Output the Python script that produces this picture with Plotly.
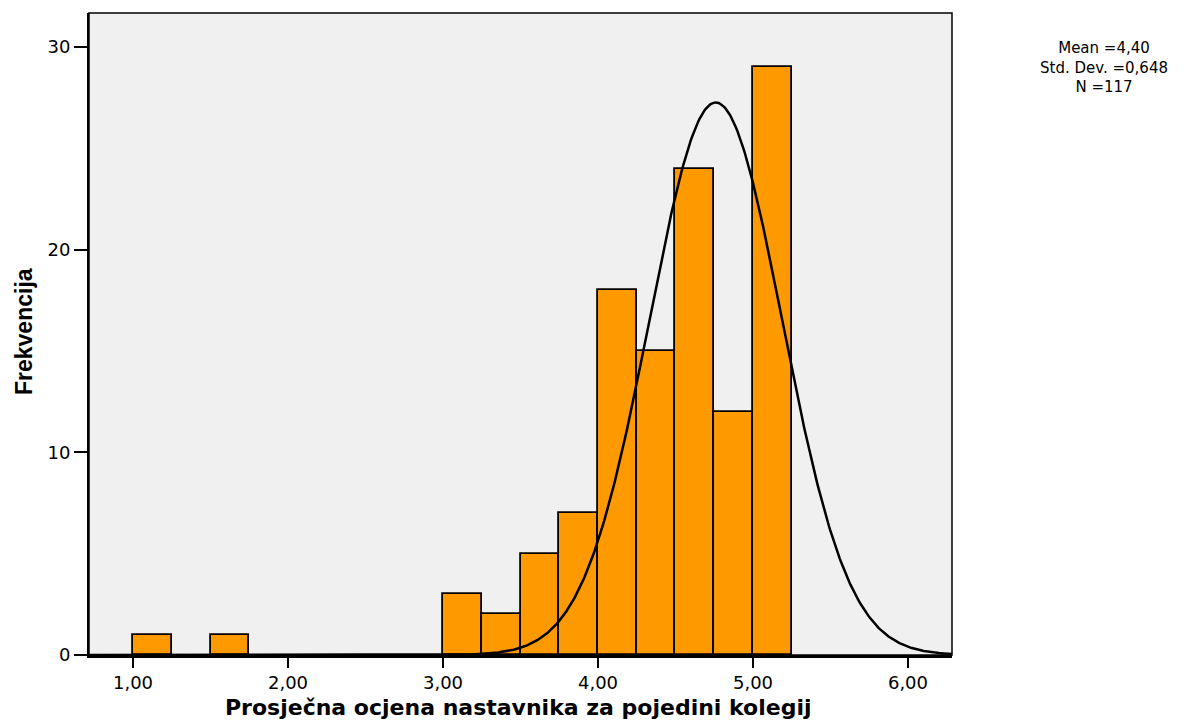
import numpy as np
import plotly.graph_objects as go

# ---- data ----
bin_left = [1.00, 1.50, 3.00, 3.25, 3.50, 3.75, 4.00, 4.25, 4.50, 4.75, 5.00]
counts = [1, 1, 3, 2, 5, 7, 18, 15, 24, 12, 29]
bin_width = 0.25
x_tickvals = [1, 2, 3, 4, 5, 6]
x_ticktext = ["1,00", "2,00", "3,00", "4,00", "5,00", "6,00"]
y_tickvals = [0, 10, 20, 30]
y_ticktext = ["0", "10", "20", "30"]
stats_lines = ["Mean =4,40", "Std. Dev. =0,648", "N =117"]
n_total = 117
curve_mu = 4.76      # centre of the drawn normal curve
curve_sd = 0.428     # spread of the drawn normal curve
x_range = [0.716, 6.284]
y_range = [0, 31.68]

# ---- normal curve overlay ----
cx = np.linspace(x_range[0], x_range[1], 800)
cy = n_total * bin_width / (curve_sd * np.sqrt(2 * np.pi)) * np.exp(-0.5 * ((cx - curve_mu) / curve_sd) ** 2)

fig = go.Figure()
fig.add_trace(go.Bar(
    x=bin_left, y=counts, width=bin_width, offset=0,
    marker=dict(color="#FF9900", line=dict(color="black", width=1.8)),
    hoverinfo="skip",
))
fig.add_trace(go.Scatter(
    x=cx, y=cy, mode="lines", line=dict(color="black", width=2.5),
    hoverinfo="skip",
))

OFF = 8  # page body margin
W, H = 1189 - OFF, 722 - OFF
# plot area in picture pixels
L, R, T, B = 89, 952, 13, 655
pw, ph = R - L, B - T

def px(xp):
    return (xp - L) / pw

def py(yp):
    return (B - yp) / ph

fig.update_layout(
    width=W, height=H,
    margin=dict(l=L - OFF, r=W - (R - OFF), t=T - OFF, b=H - (B - OFF), pad=0),
    paper_bgcolor="white", plot_bgcolor="#F0F0F0",
    showlegend=False, bargap=0,
    font=dict(family="DejaVu Sans", color="black"),
)
fig.update_xaxes(
    range=x_range, tickvals=x_tickvals, ticktext=x_ticktext,
    showgrid=False, zeroline=False,
    showline=True, linecolor="black", linewidth=2.5,
    ticks="outside", ticklen=10, tickwidth=2, tickcolor="black",
    tickfont=dict(family="DejaVu Sans", size=18, color="black"),
)
fig.update_yaxes(
    range=y_range, tickvals=y_tickvals, ticktext=y_ticktext,
    showgrid=False, zeroline=False,
    showline=True, linecolor="black", linewidth=2,
    ticks="outside", ticklen=13, tickwidth=2, tickcolor="black",
    tickfont=dict(family="DejaVu Sans", size=18, color="black"),
)
# top / right frame
fig.add_shape(type="rect", xref="paper", yref="paper", x0=0, x1=1, y0=0, y1=1,
              line=dict(color="black", width=1.5), fillcolor="rgba(0,0,0,0)", layer="above")

# axis titles
fig.add_annotation(text="<b>Prosječna ocjena nastavnika za pojedini kolegij</b>",
                   xref="paper", yref="paper", x=px(518), y=py(707),
                   xanchor="center", yanchor="middle", showarrow=False,
                   font=dict(family="DejaVu Sans", size=22, color="black"))
fig.add_annotation(text="<b>Frekvencija</b>",
                   xref="paper", yref="paper", x=px(24), y=py(332),
                   xanchor="center", yanchor="middle", showarrow=False, textangle=-90,
                   font=dict(family="Liberation Sans Narrow, Liberation Sans", size=23, color="black"))

# stats box
fig.add_annotation(text="<br>".join(stats_lines), xref="paper", yref="paper",
                   x=px(1104), y=py(68), align="center",
                   xanchor="center", yanchor="middle", showarrow=False,
                   font=dict(family="DejaVu Sans", size=15, color="black"))

fig.write_html("out.html")
